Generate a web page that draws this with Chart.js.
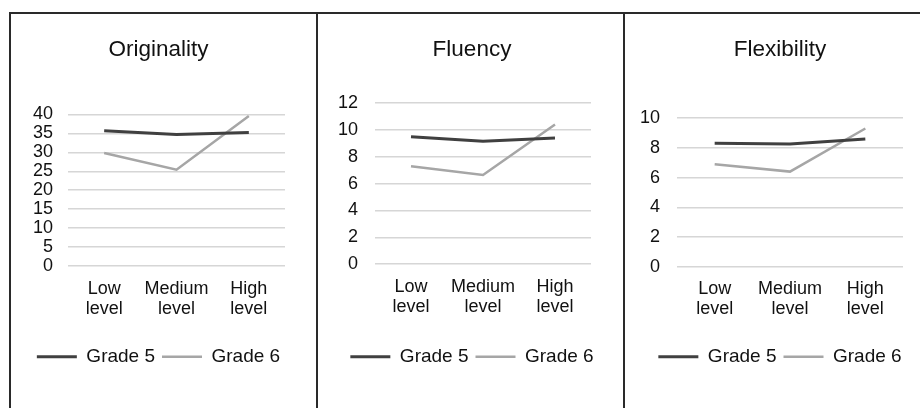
<!DOCTYPE html>
<html><head><meta charset="utf-8">
<script src="https://cdn.jsdelivr.net/npm/chart.js@4.4.1/dist/chart.umd.min.js"></script>
<style>
html,body{margin:0;padding:0;background:#fff;width:920px;height:408px;overflow:hidden;}
#wrap{position:relative;width:920px;height:408px;overflow:hidden;}
canvas{position:absolute;top:15px;}
.b{position:absolute;background:#2a2a2a;z-index:5;}
</style></head><body>
<div id="wrap">
<canvas id="c1" style="left:14px" width="289" height="393"></canvas>
<canvas id="c2" style="left:330px" width="284" height="393"></canvas>
<canvas id="c3" style="left:630px" width="300" height="393"></canvas>
<div class="b" style="left:9px;top:12px;width:911px;height:2px"></div>
<div class="b" style="left:9px;top:12px;width:2px;height:396px"></div>
<div class="b" style="left:316px;top:12px;width:2px;height:396px"></div>
<div class="b" style="left:623px;top:12px;width:2px;height:396px"></div>
</div>
<script>
// ---- data ----
const categories = [['Low', 'level'], ['Medium', 'level'], ['High', 'level']];
const seriesNames = ['Grade 5', 'Grade 6'];
const chartTitles = ['Originality', 'Fluency', 'Flexibility'];

const originalityGrade5 = [35.7, 34.7, 35.2];
const originalityGrade6 = [29.8, 25.4, 39.6];
const fluencyGrade5 = [9.5, 9.15, 9.4];
const fluencyGrade6 = [7.3, 6.65, 10.4];
const flexibilityGrade5 = [8.3, 8.25, 8.6];
const flexibilityGrade6 = [6.9, 6.4, 9.3];

const originalityTicks = [0, 5, 10, 15, 20, 25, 30, 35, 40];
const fluencyTicks = [0, 2, 4, 6, 8, 10, 12];
const flexibilityTicks = [0, 2, 4, 6, 8, 10];

// ---- style / layout ----
const FONT = "'Liberation Sans', Arial, sans-serif";
const TEXT = '#111111';
const G5_COLOR = '#404040';
const G6_COLOR = '#a6a6a6';
const GRID = '#d6d6d6';

const layouts = [
  {yW: 54, rightW: 18, yPad: 15, titleBottom: 50.7, xH: 74.2, xPad: 12.8},
  {yW: 45, rightW: 23, yPad: 17, titleBottom: 39.4, xH: 76, xPad: 12.6},
  {yW: 47, rightW: 27, yPad: 17, titleBottom: 54.4, xH: 73.5, xPad: 12.4}
];

function makeChart(id, title, g5, g6, ticks, L) {
  const step = ticks[1] - ticks[0];
  return new Chart(document.getElementById(id), {
    type: 'line',
    data: {
      labels: categories,
      datasets: [
        {label: seriesNames[0], data: g5, borderColor: G5_COLOR, backgroundColor: G5_COLOR,
         borderWidth: 3, pointRadius: 0, pointHoverRadius: 0, tension: 0, fill: false},
        {label: seriesNames[1], data: g6, borderColor: G6_COLOR, backgroundColor: G6_COLOR,
         borderWidth: 2.5, pointRadius: 0, pointHoverRadius: 0, tension: 0, fill: false}
      ]
    },
    options: {
      responsive: false,
      animation: false,
      events: [],
      layout: {padding: {top: 0, left: 0, right: 0, bottom: 31.8}},
      plugins: {
        title: {
          display: true, text: title, color: TEXT,
          font: {family: FONT, size: 22.5, weight: 'normal', lineHeight: 1.2},
          padding: {top: 21.7, bottom: L.titleBottom}
        },
        legend: {
          display: true, position: 'bottom',
          labels: {
            usePointStyle: true, pointStyle: 'line', pointStyleWidth: 40,
            padding: 7, color: TEXT,
            font: {family: FONT, size: 19}
          }
        },
        tooltip: {enabled: false}
      },
      scales: {
        x: {
          type: 'category',
          offset: true,
          grid: {display: false, drawTicks: false},
          border: {display: false},
          ticks: {
            color: TEXT, padding: L.xPad, maxRotation: 0, autoSkip: false,
            font: {family: FONT, size: 18, lineHeight: 1.12}
          },
          afterFit: (s) => { s.height = L.xH; }
        },
        y: {
          min: ticks[0], max: ticks[ticks.length - 1],
          grid: {color: GRID, lineWidth: 1.5, drawTicks: false},
          border: {display: false},
          ticks: {
            stepSize: step, autoSkip: false, color: TEXT, padding: L.yPad,
            font: {family: FONT, size: 18, lineHeight: 1}
          },
          afterFit: (s) => { s.width = L.yW; }
        },
        spacer: {
          type: 'linear', position: 'right', display: true,
          grid: {display: false, drawTicks: false}, border: {display: false},
          ticks: {display: false},
          afterFit: (s) => { s.width = L.rightW; }
        }
      }
    }
  });
}

makeChart('c1', chartTitles[0], originalityGrade5, originalityGrade6, originalityTicks, layouts[0]);
makeChart('c2', chartTitles[1], fluencyGrade5, fluencyGrade6, fluencyTicks, layouts[1]);
makeChart('c3', chartTitles[2], flexibilityGrade5, flexibilityGrade6, flexibilityTicks, layouts[2]);
</script>
</body></html>
